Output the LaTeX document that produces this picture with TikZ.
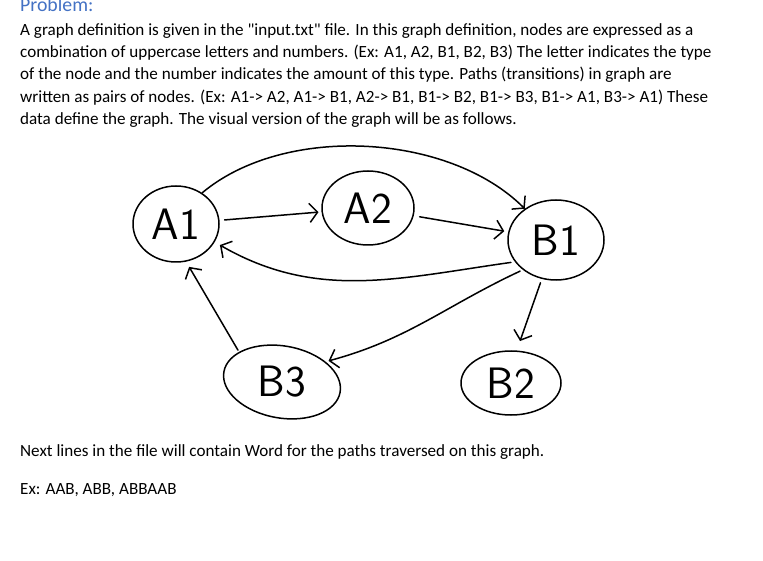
\documentclass[tikz,border=0pt]{standalone}
\usepackage{fontspec}
\setmainfont{Carlito}[Ligatures=TeXOff]
\usetikzlibrary{shapes.geometric,arrows.meta}
\definecolor{headblue}{RGB}{68,114,196}
\tikzset{
  txt/.style={anchor=base west, inner sep=0pt, font=\fontsize{17.1}{20}\selectfont},
  bub/.style={draw, ellipse, line width=1.5pt, inner sep=0pt, font=\fontsize{44}{44}\sffamily},
  hand/.style={line width=1.5pt, line cap=round, line join=round, -{Straight Barb[length=8pt, width=19pt]}}
}
\begin{document}
\begin{tikzpicture}[x=1pt, y=1pt]
	\useasboundingbox (0,0) rectangle (763,-561);
	% text above the graph
	\node[txt, text=headblue, font=\fontsize{19.8}{22}\selectfont] (title) at (20,-11.5) {Problem:};
	\node[txt] (l1) at (20,-35.5) {A graph definition is given in the "input.txt" file. In this graph definition, nodes are expressed as a};
	\node[txt] (l2) at (20,-57.5) {combination of uppercase letters and numbers. (Ex: A1, A2, B1, B2, B3) The letter indicates the type};
	\node[txt] (l3) at (20,-80) {of the node and the number indicates the amount of this type. Paths (transitions) in graph are};
	\node[txt] (l4) at (20,-102.5) {written as pairs of nodes. (Ex: A1-> A2, A1-> B1, A2-> B1, B1-> B2, B1-> B3, B1-> A1, B3-> A1) These};
	\node[txt] (l5) at (20,-125) {data define the graph. The visual version of the graph will be as follows.};
	% the graph
	\node[bub, minimum width=86pt, minimum height=76pt] (A1) at (176,-224) {A1};
	\node[bub, minimum width=92pt, minimum height=74pt] (A2) at (368,-208) {A2};
	\node[bub, minimum width=96pt, minimum height=80pt] (B1) at (556,-240) {B1};
	\node[bub, minimum width=118pt, minimum height=72pt, rotate=-10] (B3) at (282,-382) {\rotatebox{10}{B3}};
	\node[bub, minimum width=100pt, minimum height=64pt] (B2) at (511,-383) {B2};
	\draw[hand] (A1.50) to[out=40, in=135, looseness=0.85] (B1.135);
	\draw[hand, shorten <=5pt, shorten >=3pt] (A1) -- (A2);
	\draw[hand, shorten <=6pt, shorten >=4pt] (A2) -- (B1);
	\draw[hand, shorten <=4pt, shorten >=6pt] (B1.208) to[out=188, in=-30] (A1.-25);
	\draw[hand, shorten <=3pt, shorten >=3pt] (B1.222) to[out=205, in=15] (B3.35);
	\draw[hand, shorten <=4pt, shorten >=10pt] (B1.250) -- (B2.80);
	\draw[hand, shorten <=2pt, shorten >=6pt] (B3.155) -- (A1.-75);
	% text below the graph
	\node[txt] (l6) at (20,-456) {Next lines in the file will contain Word for the paths traversed on this graph.};
	\node[txt] (l7) at (20,-494) {Ex: AAB, ABB, ABBAAB};
\end{tikzpicture}
\end{document}
